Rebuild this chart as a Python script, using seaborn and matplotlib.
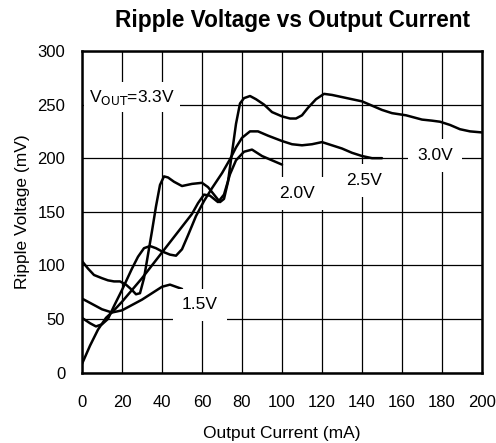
import matplotlib
matplotlib.use("Agg")
import matplotlib.pyplot as plt
import seaborn as sns
import pandas as pd

# --- data ---
x_15 = [0, 5, 10, 15, 20, 25, 30, 35, 40, 44, 47, 50]
y_15 = [69, 64, 59, 56, 58, 63, 68, 74, 80, 82, 80, 78]

x_20 = [0, 4, 8, 12, 16, 20, 25, 30, 35, 40, 45, 50, 55, 58, 61, 64, 68, 71, 74, 77, 81, 85, 90, 95, 100]
y_20 = [8, 25, 40, 51, 58, 66, 77, 88, 100, 112, 124, 136, 148, 158, 166, 165, 159, 166, 185, 198, 206, 208, 202, 198, 194]

x_25 = [0, 4, 7, 10, 13, 16, 20, 25, 28, 31, 34, 37, 40, 44, 47, 50, 53, 57, 61, 65, 70, 74, 77, 80, 84, 88, 93, 100, 105, 110, 115, 120, 125, 130, 135, 140, 145, 150]
y_25 = [51, 46, 43, 45, 50, 62, 77, 97, 108, 116, 118, 116, 113, 110, 109, 115, 128, 146, 160, 172, 186, 199, 210, 219, 225, 225, 221, 216, 213, 212, 213, 215, 212, 209, 205, 202, 200, 200]

x_30 = [0, 3, 6, 10, 13, 16, 19, 22, 25, 27, 29, 31, 33, 35, 37, 39, 41, 43, 46, 50, 55, 60, 63, 66, 69, 71, 73, 75, 77, 79, 81, 84, 87, 91, 95, 100, 104, 107, 110, 113, 117, 121, 125, 130, 135, 140, 145, 150, 155, 162, 170, 175, 179, 184, 189, 194, 200]
y_30 = [104, 97, 91, 88, 86, 85, 85, 82, 77, 73, 74, 88, 110, 132, 155, 175, 183, 182, 178, 174, 176, 177, 173, 166, 159, 162, 178, 205, 232, 251, 256, 258, 255, 250, 243, 239, 237, 237, 240, 247, 255, 260, 259, 257, 255, 253, 249, 245, 242, 240, 236, 235, 234, 231, 227, 225, 224]

xticks = [0, 20, 40, 60, 80, 100, 120, 140, 160, 180, 200]
yticks = [0, 50, 100, 150, 200, 250, 300]

series_names = ["1.5V", "2.0V", "2.5V", "3.0V"]
label_x = [59, 107.5, 141, 176.5]
label_y = [63, 167, 179, 202.5]

frames = []
for name, xs, ys in zip(series_names, [x_15, x_20, x_25, x_30], [y_15, y_20, y_25, y_30]):
    frames.append(pd.DataFrame({"current": xs, "ripple": ys, "series": name}))
df = pd.concat(frames, ignore_index=True)

sns.set_theme(style="white")
plt.rcParams["font.family"] = ["Liberation Sans", "DejaVu Sans"]

fig = plt.figure(figsize=(4.96, 4.43), dpi=100)
ax = fig.add_axes([0.1653, 0.1591, 0.8065, 0.7258])

sns.lineplot(data=df, x="current", y="ripple", hue="series", units="series",
             estimator=None, sort=False, palette=["black"] * 4, linewidth=1.8,
             legend=False, ax=ax, zorder=3)

ax.set_xlim(0, 200)
ax.set_ylim(0, 300)
ax.set_xticks(xticks)
ax.set_yticks(yticks)
ax.tick_params(axis="both", length=0, labelsize=12, colors="black")
ax.tick_params(axis="x", pad=16)
ax.tick_params(axis="y", pad=12)
ax.grid(True, color="black", linewidth=0.9, zorder=1)
ax.set_axisbelow(True)
for s in ax.spines.values():
    s.set_color("black")
    s.set_linewidth(1.8)
    s.set_zorder(5)

ax.set_xlabel("Output Current (mA)", fontsize=12.5, color="black")
ax.set_ylabel("Ripple Voltage (mV)", fontsize=12.5, color="black")
ax.xaxis.set_label_coords(0.5, -0.167)
ax.yaxis.set_label_coords(-0.13, 0.5)
ax.set_title("Ripple Voltage vs Output Current", fontsize=16.3, fontweight="bold",
             color="black", x=0.525, y=1.095, va="center", pad=0)

bbox = dict(boxstyle="square,pad=0.5", facecolor="white", edgecolor="none")
for name, lx, ly in zip(series_names, label_x, label_y):
    ax.text(lx, ly, name, ha="center", va="center", fontsize=12.5, color="black",
            bbox=bbox, zorder=4)

ax.text(25, 257, r"V$_{\mathrm{OUT}}$=3.3V", ha="center", va="center", fontsize=12.5,
        color="black", bbox=dict(boxstyle="square,pad=0.3", facecolor="white", edgecolor="none"),
        zorder=4)

fig.savefig("out.png", dpi=100)
